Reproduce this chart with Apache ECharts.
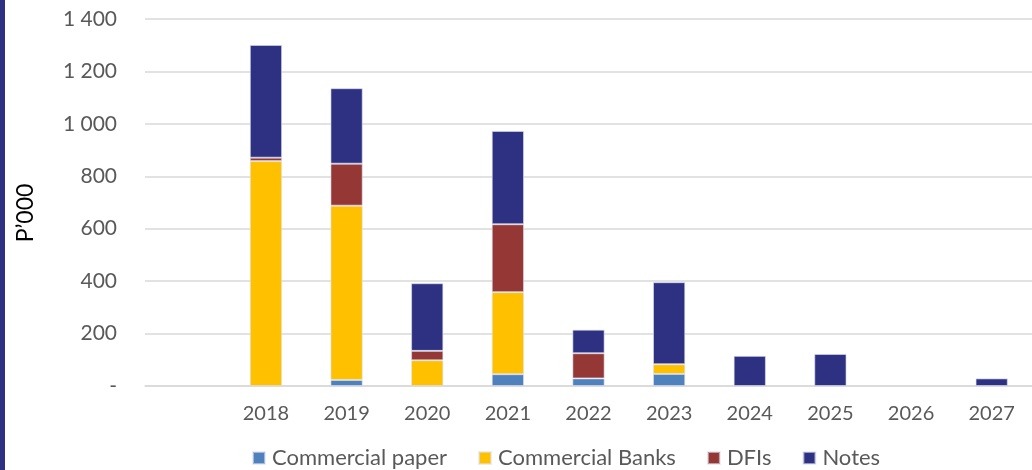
<!DOCTYPE html>
<html>
<head>
<meta charset="utf-8">
<script src="https://cdn.jsdelivr.net/npm/echarts@6/dist/echarts.min.js"></script>
<style>
  html, body { margin: 0; padding: 0; background: #ffffff; }
  #chart { width: 1032px; height: 470px; }
</style>
</head>
<body>
<div id="chart"></div>
<script>
// Maturity profile of borrowings, P'000 (first slot left empty)
const years = ['', '2018', '2019', '2020', '2021', '2022', '2023', '2024', '2025', '2026', '2027'];
const commercialPaper = [0, 0, 23, 0, 45, 29, 46, 0, 0, 0, 0];
const commercialBanks = [0, 858, 665, 98, 313, 0, 37, 0, 0, 0, 0];
const dfis = [0, 13, 160, 36, 259, 96, 0, 0, 0, 0, 0];
const notes = [0, 430, 288, 258, 356, 90, 313, 115, 122, 0, 29];
const yTicks = { min: 0, max: 1400, step: 200 };

const FONT = 'Lato, "Open Sans", sans-serif';
const GREY = '#595959';

function thousands(v) {
  if (v === 0) return '-';
  return String(v).replace(/\B(?=(\d{3})+(?!\d))/g, ' ');
}

function barSeries(name, data, color) {
  return {
    name: name,
    type: 'bar',
    stack: 'total',
    barWidth: '40%',
    data: data.map(v => (v === 0 ? null : v)),
    itemStyle: { color: color, borderColor: 'rgba(220,225,240,0.6)', borderWidth: 1 },
    emphasis: { disabled: true }
  };
}

const chart = echarts.init(document.getElementById('chart'), null, { renderer: 'canvas' });
chart.setOption({
  animation: false,
  grid: { left: 145, right: 0, top: 19, bottom: 84, containLabel: false },
  legend: {
    left: 247,
    top: 442,
    itemWidth: 12,
    itemHeight: 12,
    itemGap: 31,
    icon: 'rect',
    textStyle: { fontFamily: FONT, fontSize: 22, color: GREY, padding: [0, 0, 0, 2] },
    data: ['Commercial paper', 'Commercial Banks', 'DFIs', 'Notes']
  },
  xAxis: {
    type: 'category',
    data: years,
    axisLine: { lineStyle: { color: '#d9d9d9', width: 1.5 } },
    axisTick: { show: false },
    axisLabel: { fontFamily: FONT, fontSize: 20, color: GREY, margin: 18 }
  },
  yAxis: {
    type: 'value',
    min: yTicks.min,
    max: yTicks.max,
    interval: yTicks.step,
    axisLine: { show: false },
    axisTick: { show: false },
    splitLine: { lineStyle: { color: '#d9d9d9', width: 1.5 } },
    axisLabel: { fontFamily: FONT, fontSize: 21, color: GREY, margin: 28, formatter: thousands }
  },
  graphic: [
    { type: 'rect', left: 0, top: 0, shape: { width: 5, height: 470 }, style: { fill: '#2e3182' }, silent: true },
    {
      type: 'text',
      x: 26, y: 213,
      rotation: Math.PI / 2,
      style: {
        text: 'P\u2019000',
        font: '23px Lato, "Open Sans", sans-serif',
        fill: '#000000',
        align: 'center',
        verticalAlign: 'middle'
      },
      silent: true
    }
  ],
  series: [
    barSeries('Commercial paper', commercialPaper, '#4f81bd'),
    barSeries('Commercial Banks', commercialBanks, '#ffc000'),
    barSeries('DFIs', dfis, '#953735'),
    barSeries('Notes', notes, '#2e3182')
  ]
});
</script>
</body>
</html>
